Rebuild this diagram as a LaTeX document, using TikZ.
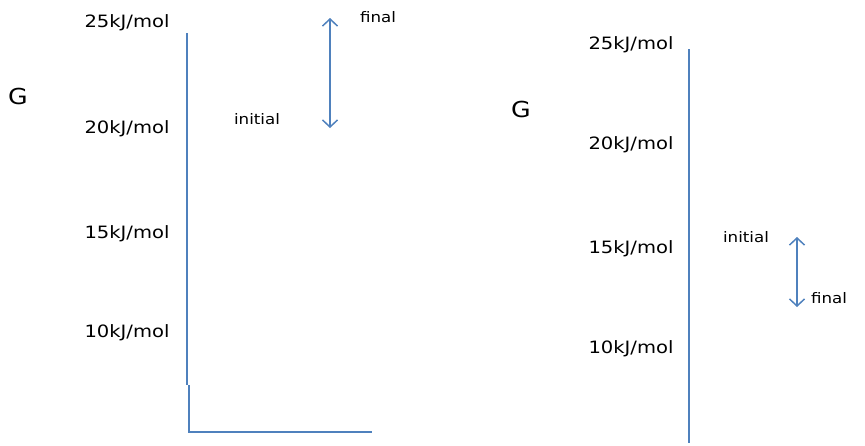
\documentclass[tikz,border=0pt]{standalone}
\usepackage{fontspec}
\setmainfont{DejaVu Sans}[FakeStretch=1.15]
\usetikzlibrary{arrows.meta,positioning}
\definecolor{axisblue}{RGB}{79,129,189}

\begin{document}
\begin{tikzpicture}[x=1pt,y=-1pt,
    level/.style={inner sep=0pt,font=\fontsize{17}{20}\selectfont},
    note/.style={inner sep=0pt,font=\fontsize{14.5}{17}\selectfont},
    gibbs/.style={inner sep=0pt,font=\fontsize{22}{26}\selectfont},
    axisline/.style={draw=axisblue,line width=1.5pt},
    change/.style={draw=axisblue,line width=1.5pt,
        {Straight Barb[length=7pt,width=15pt]}-{Straight Barb[length=7pt,width=15pt]}}]
    \useasboundingbox (0,0) rectangle (865,445);

    % left diagram
    \node[gibbs] (gL) at (18,96) {G};
    \node[level] (l25) at (127,23) {25kJ/mol};
    \node[level] (l20) at (127,129) {20kJ/mol};
    \node[level] (l15) at (127,234) {15kJ/mol};
    \node[level] (l10) at (127,333) {10kJ/mol};
    \node[note] (iniL) at (257,119) {initial};
    \node[note] (finL) at (378,17) {final};
    \coordinate (aLtop) at (187,33);
    \coordinate (aLjog) at (187,385);
    \coordinate (aLjog2) at (189,385);
    \coordinate (aLo) at (189,432);
    \coordinate (aLx) at (372,432);
    \draw[axisline] (aLtop) -- (aLjog);
    \draw[axisline] (aLjog2) -- (aLo) -- (aLx);
    \coordinate (cLtop) at (330,18);
    \coordinate (cLbot) at (330,128);
    \draw[change] (cLtop) -- (cLbot);

    % right diagram
    \node[gibbs] (gR) at (521,109) {G};
    \node[level] (r25) at (631,45) {25kJ/mol};
    \node[level] (r20) at (631,145) {20kJ/mol};
    \node[level] (r15) at (631,249) {15kJ/mol};
    \node[level] (r10) at (631,349) {10kJ/mol};
    \node[note] (iniR) at (746,237) {initial};
    \node[note] (finR) at (829,298) {final};
    \coordinate (aRtop) at (689,49);
    \coordinate (aRbot) at (689,443);
    \draw[axisline] (aRtop) -- (aRbot);
    \coordinate (cRtop) at (797,237);
    \coordinate (cRbot) at (797,307);
    \draw[change] (cRtop) -- (cRbot);
\end{tikzpicture}
\end{document}
